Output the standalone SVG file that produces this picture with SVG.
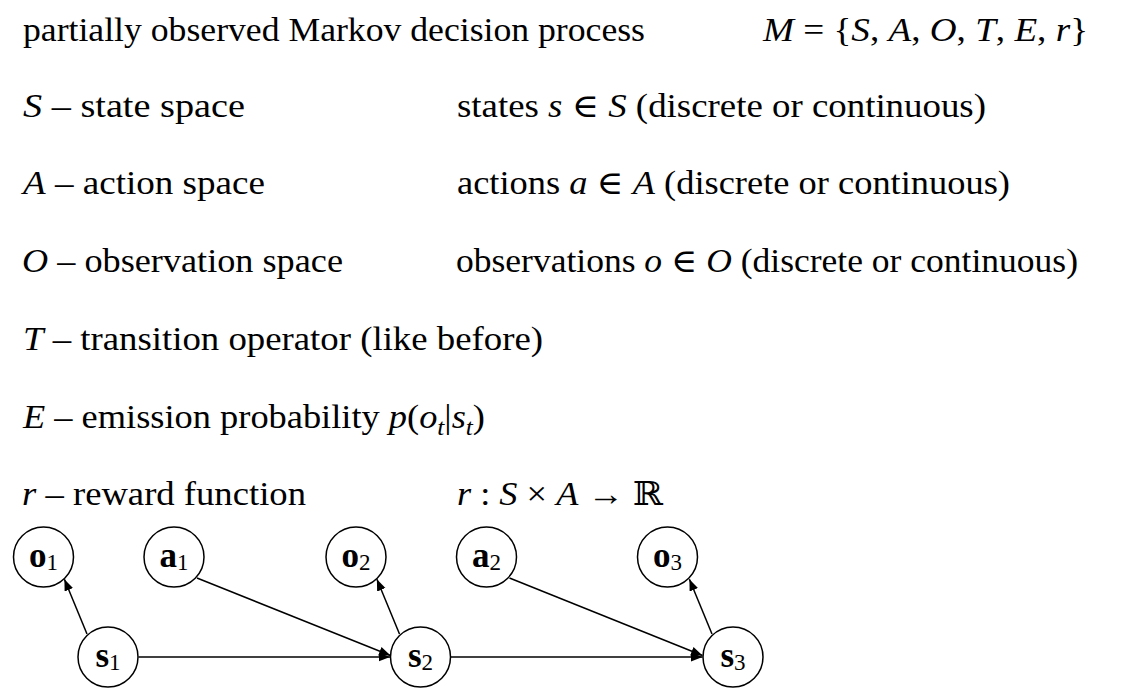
<svg xmlns="http://www.w3.org/2000/svg" width="1130" height="692" viewBox="0 0 1130 692">
<defs>
<style>
.t { font-family: 'Liberation Serif', 'DejaVu Serif', serif; font-size: 33px; fill: #000; }
.i { font-style: italic; }
.sub { font-size: 23px; font-weight: normal; }
.node circle { fill: #fff; stroke: #000; stroke-width: 1.5; }
.lbl { font-family: 'Liberation Serif', 'DejaVu Serif', serif; font-size: 35px; font-weight: bold; text-anchor: middle; fill: #000; }
.edge { stroke: #000; stroke-width: 1.5; fill: none; marker-end: url(#arr); }
</style>
<marker id="arr" markerUnits="userSpaceOnUse" markerWidth="14" markerHeight="11" refX="11.5" refY="4.5" orient="auto">
<path d="M0,0 L11.5,4.5 L0,9 z" fill="#000"/>
</marker>
</defs>
<rect x="0" y="0" width="1130" height="692" fill="#fff"/>

<g id="text">
<text class="t" x="23" y="41" textLength="622" lengthAdjust="spacingAndGlyphs">partially observed Markov decision process</text>
<text class="t" x="763" y="41" textLength="325" lengthAdjust="spacingAndGlyphs"><tspan class="i">M</tspan> = {<tspan class="i">S</tspan>, <tspan class="i">A</tspan>, <tspan class="i">O</tspan>, <tspan class="i">T</tspan>, <tspan class="i">E</tspan>, <tspan class="i">r</tspan>}</text>

<text class="t" x="23" y="117" textLength="222" lengthAdjust="spacingAndGlyphs"><tspan class="i">S</tspan> – state space</text>
<text class="t" x="457" y="117" textLength="529" lengthAdjust="spacingAndGlyphs">states <tspan class="i">s</tspan> ∈ <tspan class="i">S</tspan> (discrete or continuous)</text>

<text class="t" x="23" y="194" textLength="242" lengthAdjust="spacingAndGlyphs"><tspan class="i">A</tspan> – action space</text>
<text class="t" x="457" y="194" textLength="553" lengthAdjust="spacingAndGlyphs">actions <tspan class="i">a</tspan> ∈ <tspan class="i">A</tspan> (discrete or continuous)</text>

<text class="t" x="22" y="272" textLength="321" lengthAdjust="spacingAndGlyphs"><tspan class="i">O</tspan> – observation space</text>
<text class="t" x="456" y="272" textLength="622" lengthAdjust="spacingAndGlyphs">observations <tspan class="i">o</tspan> ∈ <tspan class="i">O</tspan> (discrete or continuous)</text>

<text class="t" x="23" y="350" textLength="520" lengthAdjust="spacingAndGlyphs"><tspan class="i">T</tspan> – transition operator (like before)</text>

<text class="t" x="23" y="428" textLength="462" lengthAdjust="spacingAndGlyphs"><tspan class="i">E</tspan> – emission probability <tspan class="i">p</tspan>(<tspan class="i">o</tspan><tspan class="i sub" dy="7">t</tspan><tspan dy="-7">|</tspan><tspan class="i">s</tspan><tspan class="i sub" dy="7">t</tspan><tspan dy="-7">)</tspan></text>

<text class="t" x="22" y="505" textLength="284" lengthAdjust="spacingAndGlyphs"><tspan class="i">r</tspan> – reward function</text>
<text class="t" x="457" y="505" textLength="206" lengthAdjust="spacingAndGlyphs"><tspan class="i">r</tspan> : <tspan class="i">S</tspan> × <tspan class="i">A</tspan> → ℝ</text>
</g>

<g id="connectors">
<line class="edge" x1="87" y1="634" x2="64.4" y2="579.2"/>
<line class="edge" x1="399.5" y1="634" x2="376.9" y2="579.2"/>
<line class="edge" x1="712" y1="634" x2="689.4" y2="579.2"/>
<line class="edge" x1="197" y1="578" x2="390.5" y2="655.5"/>
<line class="edge" x1="509.5" y1="578" x2="702.5" y2="655.5"/>
<line class="edge" x1="138.5" y1="657" x2="390" y2="657"/>
<line class="edge" x1="451" y1="657" x2="702.5" y2="657"/>
</g>

<g id="o1" class="node"><circle cx="43.5" cy="557" r="30"/><text class="lbl" x="43.5" y="567">o<tspan class="sub" dy="3">1</tspan></text></g>
<g id="a1" class="node"><circle cx="174" cy="557" r="30"/><text class="lbl" x="174" y="567">a<tspan class="sub" dy="3">1</tspan></text></g>
<g id="o2" class="node"><circle cx="356" cy="557" r="30"/><text class="lbl" x="356" y="567">o<tspan class="sub" dy="3">2</tspan></text></g>
<g id="a2" class="node"><circle cx="486.5" cy="557" r="30"/><text class="lbl" x="486.5" y="567">a<tspan class="sub" dy="3">2</tspan></text></g>
<g id="o3" class="node"><circle cx="667.5" cy="557" r="30"/><text class="lbl" x="667.5" y="567">o<tspan class="sub" dy="3">3</tspan></text></g>
<g id="s1" class="node"><circle cx="108" cy="657" r="30"/><text class="lbl" x="108" y="667">s<tspan class="sub" dy="3">1</tspan></text></g>
<g id="s2" class="node"><circle cx="420.5" cy="657" r="30"/><text class="lbl" x="420.5" y="667">s<tspan class="sub" dy="3">2</tspan></text></g>
<g id="s3" class="node"><circle cx="733" cy="657" r="30"/><text class="lbl" x="733" y="667">s<tspan class="sub" dy="3">3</tspan></text></g>
</svg>
